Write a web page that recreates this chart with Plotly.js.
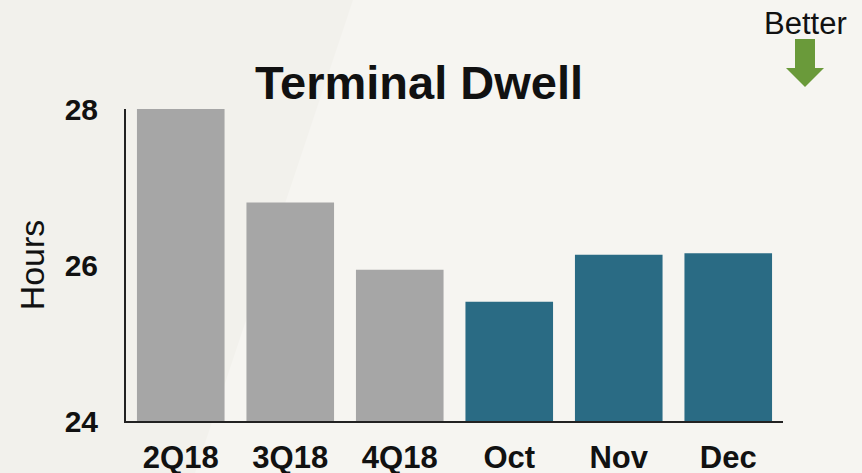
<!DOCTYPE html>
<html>
<head>
<meta charset="utf-8">
<script src="https://cdn.plot.ly/plotly-3.0.1.min.js"></script>
<style>
  html, body { margin: 0; padding: 0; background: #f3f2ee; }
  #chart { width: 862px; height: 473px; }
</style>
</head>
<body>
<div id="chart"></div>
<script>
// ---- Data ----
const categories = ["2Q18", "3Q18", "4Q18", "Oct", "Nov", "Dec"];
const dwellHours = [28.0, 26.8, 25.94, 25.53, 26.13, 26.15];
const periodType = ["quarter", "quarter", "quarter", "month", "month", "month"];
const yTickValues = [24, 26, 28];
const yTickLabels = ["24", "26", "28"];

// ---- Styles ----
const typeColors = { quarter: "#a6a6a6", month: "#2a6b84" };
const W = 862, H = 473;
const M = { l: 126, r: 79, t: 109, b: 52 };
const pw = W - M.l - M.r, ph = H - M.t - M.b;
const px = x => (x - M.l) / pw;
const py = y => (H - M.b - y) / ph;
const font = '"Liberation Sans", Arial, sans-serif';

const trace = {
  type: "bar",
  x: categories,
  y: dwellHours,
  marker: { color: periodType.map(t => typeColors[t]) },
  hoverinfo: "x+y"
};

// decoration: light diagonal band + "Better" arrow
const band = `M ${px(353)} ${py(0)} L ${px(W)} ${py(0)} L ${px(W)} ${py(H)} L ${px(195)} ${py(H)} Z`;
const arrow = `M ${px(795)} ${py(39)} L ${px(815)} ${py(39)} L ${px(815)} ${py(68)} L ${px(824)} ${py(68)} ` +
              `L ${px(805)} ${py(87)} L ${px(786)} ${py(68)} L ${px(795)} ${py(68)} Z`;

const layout = {
  width: W, height: H,
  margin: M,
  paper_bgcolor: "#f2f1ec",
  plot_bgcolor: "rgba(0,0,0,0)",
  font: { family: font, color: "#111" },
  showlegend: false,
  bargap: 0.2,
  title: {
    text: "<b>Terminal Dwell</b>",
    font: { family: font, size: 47, color: "#111" },
    xref: "container", x: 419 / W, xanchor: "center",
    yref: "container", y: 1 - 83 / H, yanchor: "middle"
  },
  xaxis: {
    type: "category",
    range: [-0.5, categories.length - 0.5],
    showgrid: false, zeroline: false,
    showline: true, linecolor: "#222", linewidth: 2,
    ticks: "outside", ticklen: 8, tickcolor: "rgba(0,0,0,0)",
    tickfont: { family: font, size: 31, color: "#111", weight: "bold" },
    fixedrange: true
  },
  yaxis: {
    range: [24, 28],
    tickvals: yTickValues, ticktext: yTickLabels,
    showgrid: false, zeroline: false,
    showline: true, linecolor: "#222", linewidth: 2,
    ticks: "outside", ticklen: 20, tickcolor: "rgba(0,0,0,0)",
    tickfont: { family: font, size: 30, color: "#111", weight: "bold" },
    title: { text: "Hours", font: { family: font, size: 34, color: "#111" }, standoff: 10 },
    fixedrange: true
  },
  shapes: [
    { type: "path", path: band, xref: "paper", yref: "paper", layer: "below",
      fillcolor: "#f6f5f1", line: { width: 0 } },
    { type: "path", path: arrow, xref: "paper", yref: "paper", layer: "above",
      fillcolor: "#6a9a3a", line: { width: 0 } }
  ],
  annotations: [
    { text: "Better", xref: "paper", yref: "paper", x: px(805), y: py(23),
      xanchor: "center", yanchor: "middle", showarrow: false,
      font: { family: font, size: 31, color: "#111" } }
  ]
};

Plotly.newPlot("chart", [trace], layout, { displayModeBar: false, staticPlot: true });
</script>
</body>
</html>
